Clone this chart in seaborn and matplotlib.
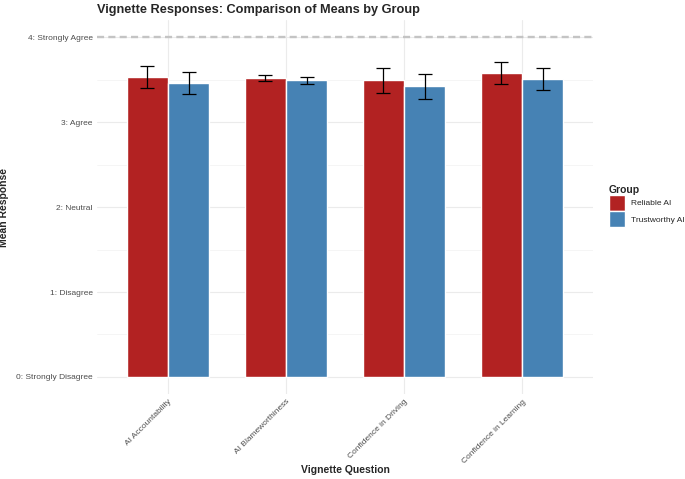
import pandas as pd
import seaborn as sns
import matplotlib.pyplot as plt
from matplotlib.ticker import MultipleLocator

# data
questions = ["AI Accountability", "AI Blameworthiness", "Confidence in Driving", "Confidence in Learning"]
groups = ["Reliable AI", "Trustworthy AI"]
reliable_mean = [3.53, 3.52, 3.49, 3.58]
trustworthy_mean = [3.46, 3.49, 3.42, 3.51]
reliable_se = [0.128, 0.038, 0.143, 0.127]
trustworthy_se = [0.127, 0.039, 0.146, 0.130]
y_ticks = [0, 1, 2, 3, 4]
y_labels = ["0: Strongly Disagree", "1: Disagree", "2: Neutral", "3: Agree", "4: Strongly Agree"]
colors = {"Reliable AI": "#B22222", "Trustworthy AI": "#4682B4"}

df = pd.DataFrame({
    "Question": questions * 2,
    "Group": [groups[0]] * len(questions) + [groups[1]] * len(questions),
    "Mean": reliable_mean + trustworthy_mean,
    "SE": reliable_se + trustworthy_se,
})

sns.set_theme(style="white")
plt.rcParams["font.family"] = ["Liberation Sans", "DejaVu Sans"]

fig, ax = plt.subplots(figsize=(6.85, 4.79), dpi=100)
fig.subplots_adjust(left=0.1416, right=0.8657, top=0.958, bottom=0.1775)

sns.barplot(data=df, x="Question", y="Mean", hue="Group", palette=colors,
            saturation=1, width=0.7, errorbar=None, ax=ax, zorder=2)

# error bars on the bar centres
for container, grp in zip(ax.containers, groups):
    sub = df[df["Group"] == grp]
    xs = [b.get_x() + b.get_width() / 2 for b in container]
    ax.errorbar(xs, sub["Mean"], yerr=sub["SE"], fmt="none", ecolor="black",
                elinewidth=0.9, capsize=5, capthick=0.9, zorder=3)

# reference line at the top of the scale
ax.axhline(4, color="#C4C4C4", ls=(0, (3, 1.8)), lw=1.7, zorder=1.5)

# grid like theme_minimal
ax.set_axisbelow(True)
ax.yaxis.set_minor_locator(MultipleLocator(0.5))
ax.grid(which="major", color="#EBEBEB", lw=0.8)
ax.grid(which="minor", axis="y", color="#F2F2F2", lw=0.5)
sns.despine(ax=ax, left=True, bottom=True)

ax.set_ylim(-0.2, 4.2)
ax.set_xlim(-0.6, 3.6)
ax.set_yticks(y_ticks, y_labels)
ax.tick_params(axis="both", length=0, labelsize=6, colors="#4D4D4D", pad=3)
ax.tick_params(axis="y", which="minor", length=0)
plt.setp(ax.get_xticklabels(), rotation=45, ha="right", rotation_mode="anchor")

ax.set_xlabel("Vignette Question", fontsize=7.5, fontweight="bold")
ax.set_ylabel("Mean Response", fontsize=7.5, fontweight="bold")
ax.xaxis.set_label_coords(0.5, -0.19)
ax.yaxis.set_label_coords(-0.177, 0.5)
ax.set_title("Vignette Responses: Comparison of Means by Group", loc="left",
             fontsize=9.2, fontweight="bold", pad=5)

leg = ax.legend(title="Group", bbox_to_anchor=(0.889, 0.614), loc="upper left",
                bbox_transform=fig.transFigure, frameon=False, fontsize=6,
                title_fontsize=7.5, handlelength=1.9, handleheight=2.6,
                labelspacing=0, handletextpad=0.7, borderpad=0,
                borderaxespad=0, alignment="left")
leg.get_title().set_fontweight("bold")

plt.savefig("out.png", dpi=100)
